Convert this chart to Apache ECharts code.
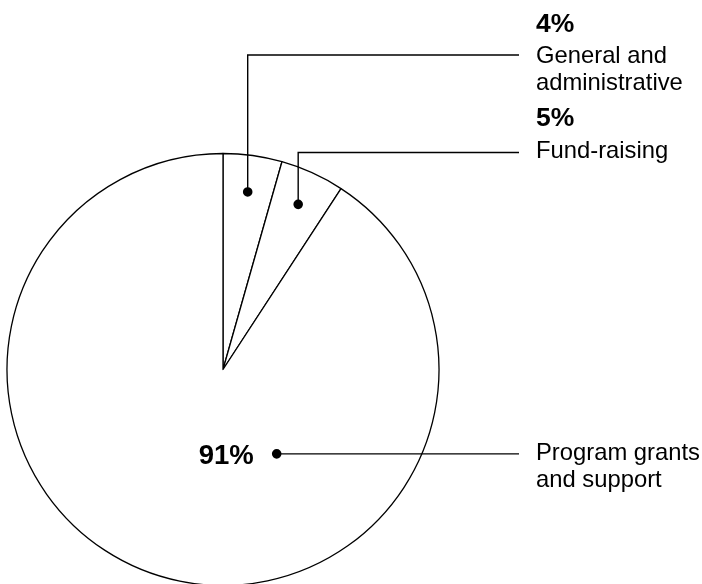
<!DOCTYPE html>
<html><head><meta charset="utf-8">
<script src="https://cdn.jsdelivr.net/npm/echarts@6/dist/echarts.min.js"></script>
<style>html,body{margin:0;padding:0;background:#fff}#c{width:702px;height:584px}</style>
</head><body><div id="c"></div>
<script>
// ---- data ----
const categories = ['General and administrative', 'Fund-raising', 'Program grants and support'];
const nameLines = [['General and', 'administrative'], ['Fund-raising'], ['Program grants', 'and support']];
const values = [4.4, 4.8, 90.8];

// ---- layout (not data) ----
const CX = 223, CY = 369.5, R = 216;
const anchorFrac = [0.5, 0.5, 0.35];     // position of dot within slice angular span
const anchorRad = [0.83, 0.84, 0.463];   // dot distance from centre, fraction of radius
const lineY = [55, 152.5, null];          // elbow height of leader line (null = straight)
const pctY = [25, 119, 456];
const nameY = [56, 151, 453];
const LINE_END_X = 519, TEXT_X = 536, LINE_H = 27;
const FONT = '"Liberation Sans", Arial, Helvetica, sans-serif';

const chart = echarts.init(document.getElementById('c'), null, {renderer: 'canvas'});

const total = values.reduce((a, b) => a + b, 0);
const graphics = [];
let acc = 0;
values.forEach((v, i) => {
  const a0 = acc / total * 360, a1 = (acc + v) / total * 360;
  acc += v;
  const th = (a0 + (a1 - a0) * anchorFrac[i]) * Math.PI / 180;
  const r = R * anchorRad[i];
  const dx = CX + r * Math.sin(th), dy = CY - r * Math.cos(th);
  let pts;
  if (lineY[i] == null) pts = [[dx, dy], [LINE_END_X, dy]];
  else pts = [[dx, dy], [dx, lineY[i]], [LINE_END_X, lineY[i]]];
  graphics.push({type: 'polyline', shape: {points: pts}, style: {stroke: '#000', lineWidth: 1.4, fill: null}, silent: true, z: 10});
  graphics.push({type: 'circle', shape: {cx: dx, cy: dy, r: 4.8}, style: {fill: '#000'}, silent: true, z: 11});
  const pct = Math.round(v) + '%';
  if (i < 2) {
    graphics.push({type: 'text', x: TEXT_X, y: pctY[i], style: {text: pct, font: 'bold 26.5px ' + FONT, fill: '#000', align: 'left', verticalAlign: 'middle'}, silent: true, z: 12});
  } else {
    graphics.push({type: 'text', x: dx - 23, y: pctY[i], style: {text: pct, font: 'bold 27.5px ' + FONT, fill: '#000', align: 'right', verticalAlign: 'middle'}, silent: true, z: 12});
  }
  nameLines[i].forEach((t, k) => {
    graphics.push({type: 'text', x: TEXT_X, y: nameY[i] + k * LINE_H, style: {text: t, font: '23.8px ' + FONT, fill: '#000', align: 'left', verticalAlign: 'middle'}, silent: true, z: 12});
  });
});

chart.setOption({
  backgroundColor: '#fff',
  animation: false,
  series: [{
    type: 'pie',
    center: [CX, CY],
    radius: R,
    startAngle: 90,
    clockwise: true,
    silent: true,
    label: {show: false},
    labelLine: {show: false},
    itemStyle: {color: '#fff', borderColor: '#000', borderWidth: 1.3},
    emphasis: {disabled: true},
    data: categories.map((c, i) => ({name: c, value: values[i]}))
  }],
  graphic: graphics
});
</script></body></html>
